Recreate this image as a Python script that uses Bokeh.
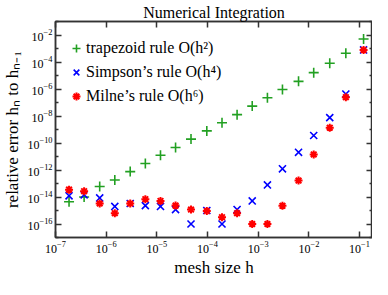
from bokeh.plotting import figure
from bokeh.models import Range1d, LogAxis, FixedTicker, CustomJSTickFormatter, Legend, LegendItem
from bokeh.embed import file_html
from bokeh.resources import INLINE

# mesh sizes h
h = [1.85e-7, 3.67e-7, 7.45e-7, 1.48e-6, 2.98e-6, 5.93e-6, 1.18e-5, 2.34e-5,
     4.72e-5, 9.68e-5, 1.93e-4, 3.83e-4, 7.62e-4, 1.52e-3, 3.01e-3, 6.25e-3,
     1.245e-2, 2.58e-2, 5.36e-2, 0.12]
# relative errors
trapezoid = [4.4e-15, 1.0e-14, 6.0e-14, 1.8e-13, 7.6e-13, 3.0e-12, 1.23e-11, 4.7e-11,
             1.95e-10, 7.9e-10, 3.2e-9, 1.26e-8, 5.4e-8, 2.24e-7, 9.1e-7, 3.7e-6,
             1.62e-5, 8.1e-5, 4.4e-4, 5.0e-3]
simpson = [1.23e-14, 1.45e-14, 8.5e-15, 2.0e-15, 3.3e-15, 2.3e-15, 2.0e-15, 1.17e-15,
           1.0e-16, 1.0e-15, 1.0e-16, 1.17e-15, 5.1e-15, 7.8e-14, 1.23e-12, 2.04e-11,
           3.6e-10, 7.6e-9, 4.2e-7, 7.8e-4]
milne = [3.5e-14, 2.7e-14, 3.3e-15, 6.3e-16, 3.3e-15, 6.9e-15, 5.1e-15, 2.3e-15,
         1.17e-15, 9.1e-16, 3.2e-16, 6.3e-16, 1.0e-16, 1.0e-16, 2.24e-15, 1.66e-13,
         1.41e-11, 1.35e-9, 2.45e-7, 7.8e-4]

x_ticks = [1e-7, 1e-6, 1e-5, 1e-4, 1e-3, 1e-2, 1e-1]
y_ticks = [1e-16, 1e-14, 1e-12, 1e-10, 1e-8, 1e-6, 1e-4, 1e-2]
y_minor = [1e-17, 1e-15, 1e-13, 1e-11, 1e-9, 1e-7, 1e-5, 1e-3, 1e-1]

FONT = "Liberation Serif"
AX = "#333333"

p = figure(width=372, height=279, x_axis_type="log", y_axis_type="log",
           x_range=Range1d(1e-7, 0.18), y_range=Range1d(1e-17, 1e-1),
           output_backend="svg", toolbar_location=None,
           min_border_left=4, min_border_right=0, min_border_top=4, min_border_bottom=4)
p.background_fill_color = "white"
p.border_fill_color = "white"
p.xgrid.visible = False
p.ygrid.visible = False
p.outline_line_color = AX
p.outline_line_width = 1.5

p.title.text = "Numerical Integration"
p.title.align = "center"
p.title.text_font = FONT
p.title.text_font_size = "16px"
p.title.text_font_style = "normal"
p.title.text_color = "black"
p.title.standoff = 2

def style_axis(ax, ticks, minor, labels=True):
    ax.ticker = FixedTicker(ticks=ticks, minor_ticks=minor)
    ax.axis_line_color = AX
    ax.axis_line_width = 1.5
    ax.major_tick_line_color = AX
    ax.major_tick_line_width = 1.5
    ax.minor_tick_line_color = AX
    ax.minor_tick_line_width = 1.5
    ax.major_tick_in = 6
    ax.major_tick_out = 0
    ax.minor_tick_in = 3
    ax.minor_tick_out = 0
    ax.major_label_text_font = FONT
    ax.major_label_text_font_size = "12px"
    ax.major_label_text_color = "black"
    ax.major_label_standoff = 3
    ax.axis_label_text_font = FONT
    ax.axis_label_text_font_size = "17px"
    ax.axis_label_text_font_style = "normal"
    ax.axis_label_text_color = "black"
    ax.axis_label_standoff = 2
    if not labels:
        ax.formatter = CustomJSTickFormatter(code="return ''")
        ax.major_label_standoff = 0
        ax.axis_label_standoff = 0
        ax.major_label_text_font_size = "0px"

xax = p.xaxis[0]
yax = p.yaxis[0]
style_axis(xax, x_ticks, [])
style_axis(yax, y_ticks, y_minor)
xax.axis_label = "mesh size h"
yax.axis_label = "relative error hₙ to hₙ₋₁"

top = LogAxis()
style_axis(top, x_ticks, [], labels=False)
p.add_layout(top, "above")
right = LogAxis()
style_axis(right, y_ticks, y_minor, labels=False)
p.add_layout(right, "right")

r1 = p.scatter(h, trapezoid, marker="cross", size=10, line_width=1.6, color="#22a022")
r2 = p.scatter(h, simpson, marker="x", size=10, line_width=1.6, color="#0000ff")
r3 = p.scatter(h, milne, marker="asterisk", size=8, line_width=2.0, color="#ff0000")

legend = Legend(items=[
    LegendItem(label="trapezoid rule O(h²)", renderers=[r1]),
    LegendItem(label="Simpson’s rule O(h⁴)", renderers=[r2]),
    LegendItem(label="Milne’s rule O(h⁶)", renderers=[r3]),
], location=(11, 129))
legend.background_fill_alpha = 0
legend.border_line_alpha = 0
legend.label_text_font = FONT
legend.label_text_font_size = "16px"
legend.label_text_color = "black"
legend.glyph_width = 20
legend.glyph_height = 24
legend.label_height = 24
legend.spacing = 0
legend.padding = 0
legend.margin = 0
legend.label_standoff = 0
p.add_layout(legend)

open("out.html", "w").write(file_html(p, INLINE))
